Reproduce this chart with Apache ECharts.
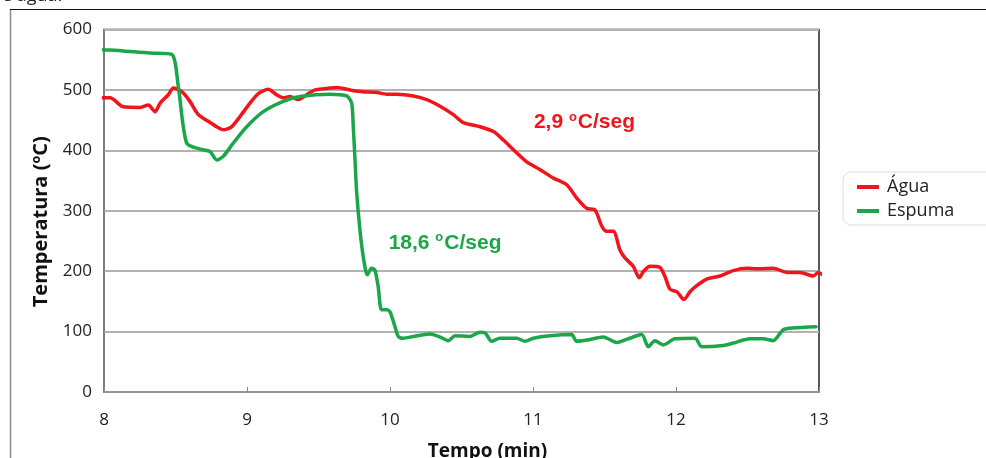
<!DOCTYPE html>
<html>
<head>
<meta charset="utf-8">
<script src="https://cdn.jsdelivr.net/npm/echarts@6/dist/echarts.min.js"></script>
<style>html,body{margin:0;padding:0;background:#fff}#c{width:986px;height:458px}</style>
</head>
<body>
<div id="c"></div>
<script>
const xTicks = [8, 9, 10, 11, 12, 13];
const yTicks = [0, 100, 200, 300, 400, 500, 600];
const seriesNames = ['Água', 'Espuma'];

const aguaTime = [7.937, 8.042, 8.135, 8.252, 8.31, 8.357, 8.392, 8.45, 8.485, 8.544, 8.601, 8.66, 8.729, 8.788, 8.834, 8.892, 8.951, 9.021, 9.079, 9.149, 9.207, 9.254, 9.301, 9.359, 9.417, 9.476, 9.58, 9.627, 9.72, 9.81, 9.9, 9.977, 10.047, 10.163, 10.257, 10.35, 10.443, 10.513, 10.63, 10.723, 10.793, 10.863, 10.956, 11.05, 11.143, 11.236, 11.306, 11.376, 11.434, 11.48, 11.515, 11.562, 11.608, 11.643, 11.701, 11.743, 11.771, 11.818, 11.888, 11.923, 11.958, 12.005, 12.056, 12.098, 12.145, 12.215, 12.308, 12.401, 12.494, 12.564, 12.68, 12.774, 12.867, 12.96, 12.995, 13.042];
const aguaTemp = [487, 487, 472, 471, 475, 464, 478, 492, 503, 497, 481, 459, 448, 439, 434, 439, 456, 478, 494, 501, 492, 487, 489, 484, 492, 500, 503, 504, 500, 497, 496, 493, 493, 490, 484, 473, 459, 446, 439, 431, 417, 401, 381, 368, 354, 343, 321, 304, 301, 275, 266, 266, 235, 222, 208, 189, 199, 208, 206, 191, 170, 166, 153, 166, 176, 187, 192, 201, 205, 204, 205, 198, 198, 192, 198, 191];

const espumaTime = [7.874, 8.042, 8.322, 8.473, 8.52, 8.578, 8.671, 8.741, 8.788, 8.834, 8.904, 8.998, 9.114, 9.254, 9.371, 9.58, 9.697, 9.732, 9.743, 9.755, 9.767, 9.79, 9.813, 9.841, 9.871, 9.894, 9.917, 9.941, 9.977, 10.0, 10.035, 10.058, 10.093, 10.163, 10.28, 10.35, 10.408, 10.455, 10.559, 10.629, 10.664, 10.711, 10.769, 10.886, 10.944, 11.002, 11.119, 11.27, 11.305, 11.399, 11.492, 11.585, 11.655, 11.76, 11.806, 11.853, 11.911, 11.993, 12.133, 12.18, 12.331, 12.401, 12.517, 12.61, 12.68, 12.75, 12.82, 12.979];
const espumaTemp = [567, 566, 561, 559, 505, 412, 402, 398, 384, 390, 412, 439, 464, 481, 489, 493, 490, 478, 440, 385, 330, 268, 224, 194, 205, 202, 175, 136, 136, 133, 108, 92, 89, 92, 96, 91, 85, 93, 92, 99, 98, 84, 89, 89, 84, 89, 93, 95, 84, 87, 91, 82, 87, 95, 75, 85, 78, 88, 89, 75, 77, 81, 88, 88, 85, 103, 106, 108];

const aguaLabel = ['2,9 ', 'o', 'C/seg'];
const espumaLabel = ['18,6 ', 'o', 'C/seg'];

const RED = '#f0141c';
const GREEN = '#1ca64a';

function pairs(xs, ys) { return xs.map((x, i) => [x, ys[i]]); }
function richLabel(parts, color) {
  return {
    show: true,
    formatter: '{a|' + parts[0] + '}{s|' + parts[1] + '}{a|' + parts[2] + '}',
    rich: {
      a: { fontFamily: 'Liberation Sans, Arial', fontWeight: 'bold', fontSize: 21, color: color },
      s: { fontFamily: 'Liberation Sans, Arial', fontWeight: 'bold', fontSize: 13, color: color, padding: [0, 1, 10, 0] }
    },
    position: 'inside'
  };
}

const chart = echarts.init(document.getElementById('c'), null, { renderer: 'canvas' });
chart.setOption({
  animation: false,
  backgroundColor: '#ffffff',
  grid: { left: 104, right: 167, top: 29.5, bottom: 66, containLabel: false, outerBoundsMode: 'none', show: true, borderColor: '#222', borderWidth: 1.5, backgroundColor: 'transparent' },
  xAxis: {
    type: 'value', min: xTicks[0], max: xTicks[xTicks.length - 1], interval: 1,
    name: 'Tempo (min)', nameLocation: 'middle', nameGap: 50,
    nameTextStyle: { fontFamily: 'Open Sans, Liberation Sans', fontWeight: 'bold', fontSize: 19, color: '#111', padding: [0, 0, 0, 52] },
    axisLine: { show: true, lineStyle: { color: '#8a8a8a', width: 1.5 } },
    axisTick: { show: true, inside: true, length: 5, lineStyle: { color: '#8a8a8a' } },
    axisLabel: { fontFamily: 'Open Sans, Liberation Sans', fontSize: 17, color: '#222', margin: 20 },
    splitLine: { show: false }
  },
  yAxis: {
    type: 'value', min: yTicks[0], max: yTicks[yTicks.length - 1], interval: 100,
    name: 'Temperatura (ºC)', nameLocation: 'middle', nameGap: 53,
    nameTextStyle: { fontFamily: 'Open Sans, Liberation Sans', fontWeight: 'bold', fontSize: 20, color: '#111', padding: [0, 22, 0, 0] },
    axisLine: { show: true, lineStyle: { color: '#8a8a8a', width: 1.5 } },
    axisTick: { show: false },
    axisLabel: { fontFamily: 'Open Sans, Liberation Sans', fontSize: 17, color: '#222', margin: 12 },
    splitLine: { show: true, lineStyle: { color: '#b2b2b2', width: 2 } }
  },
  legend: {
    orient: 'vertical', left: 843, top: 172,
    data: seriesNames,
    icon: 'rect', itemWidth: 22, itemHeight: 4, itemGap: 6,
    padding: [6, 40, 5, 14],
    borderColor: '#dddddd', borderWidth: 1, borderRadius: 8,
    textStyle: { fontFamily: 'Open Sans, Liberation Sans', fontSize: 18, color: '#222', padding: [0, 0, 0, 3] }
  },
  graphic: [
    { type: 'line', shape: { x1: 10.5, y1: 9.5, x2: 10.5, y2: 458 }, style: { stroke: '#8a8a8a', lineWidth: 1.5 }, silent: true },
    { type: 'line', shape: { x1: 10, y1: 9.5, x2: 986, y2: 9.5 }, style: { stroke: '#111', lineWidth: 1.2 }, silent: true },
    { type: 'text', left: 2, top: -13, style: { text: 'e água.', font: '18px "Open Sans", sans-serif', fill: '#222' }, silent: true }
  ],
  series: [
    {
      name: seriesNames[0], type: 'line', data: pairs(aguaTime, aguaTemp), clip: false,
      showSymbol: false, symbol: 'none', smooth: 0.25,
      lineStyle: { color: RED, width: 3.5, join: 'round', cap: 'round' }, itemStyle: { color: RED },
      markPoint: { symbol: 'circle', symbolSize: 0, silent: true, data: [{ coord: [11.36, 447], label: richLabel(aguaLabel, RED) }] },
      z: 3
    },
    {
      name: seriesNames[1], type: 'line', data: pairs(espumaTime, espumaTemp), clip: false,
      showSymbol: false, symbol: 'none', smooth: 0.25,
      lineStyle: { color: GREEN, width: 3.5, join: 'round', cap: 'round' }, itemStyle: { color: GREEN },
      markPoint: { symbol: 'circle', symbolSize: 0, silent: true, data: [{ coord: [10.385, 247], label: richLabel(espumaLabel, GREEN) }] },
      z: 4
    }
  ]
});
</script>
</body>
</html>
